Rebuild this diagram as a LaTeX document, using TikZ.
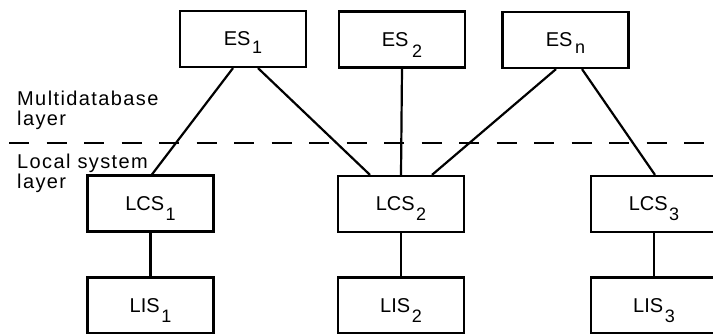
\documentclass[tikz,border=0pt]{standalone}
\usepackage{fontspec}
\setmainfont{Liberation Sans}
\usetikzlibrary{calc}
\newcommand{\subl}[2][10pt]{\kern1.5pt\raisebox{-#1}[0pt][0pt]{\fontsize{18}{18}\selectfont #2}}
\begin{document}
\begin{tikzpicture}[x=1pt,y=-1pt,
  box/.style={draw, line width=2.2pt, minimum width=126pt, minimum height=56pt, inner sep=0pt, font=\fontsize{20}{20}\selectfont},
  link/.style={line width=2.2pt},
  lbl/.style={anchor=base west, inner sep=0pt, font=\fontsize{20}{20}\selectfont\addfontfeature{LetterSpace=7}}]
\useasboundingbox (0,0) rectangle (713,333);
\clip (0,0) rectangle (713,333);
% top layer
\node[box] (es1) at (243,39) {ES\subl[8pt]{1}};
\node[box] (es2) at (402,39.5) {ES\kern2pt\subl[11pt]{2}};
\node[box] (esn) at (565.5,40) {ES\kern1pt\subl[7pt]{n}};
% local layer
\node[box] (lcs1) at (150.5,203.5) {LCS\subl{1}};
\node[box] (lcs2) at (401,204) {LCS\subl{2}};
\node[box] (lcs3) at (654,204) {LCS\subl{3}};
\node[box] (lis1) at (150.5,305.5) {LIS\subl{1}};
\node[box] (lis2) at (401,305.5) {LIS\subl{2}};
\node[box] (lis3) at (654,305.5) {LIS\subl{3}};
% labels
\node[lbl] (mdb1) at (17,105) {Multidatabase};
\node[lbl] (mdb2) at (17,125) {layer};
\node[lbl] (loc1) at (17,168) {Local system};
\node[lbl] (loc2) at (17,188) {layer};
% dashed separator
\coordinate (dl) at (9,143);
\coordinate (dr) at (713,143);
\draw[link, dash pattern=on 20pt off 17.5pt] (dl) -- (dr);
% connectors
\draw[link] ($(es1.south)+(-10,0)$) -- ($(lcs1.north)+(1.5,0)$);
\draw[link] ($(es1.south)+(15,0)$) -- ($(lcs2.north)+(-31,0)$);
\draw[link] (es2.south) -- (lcs2.north);
\draw[link] ($(esn.south)+(-9.5,0)$) -- ($(lcs2.north)+(31,0)$);
\draw[link] ($(esn.south)+(16.5,0)$) -- ($(lcs3.north)+(1,0)$);
\draw[link] (lcs1) -- (lis1);
\draw[link] (lcs2) -- (lis2);
\draw[link] (lcs3) -- (lis3);
\end{tikzpicture}
\end{document}
